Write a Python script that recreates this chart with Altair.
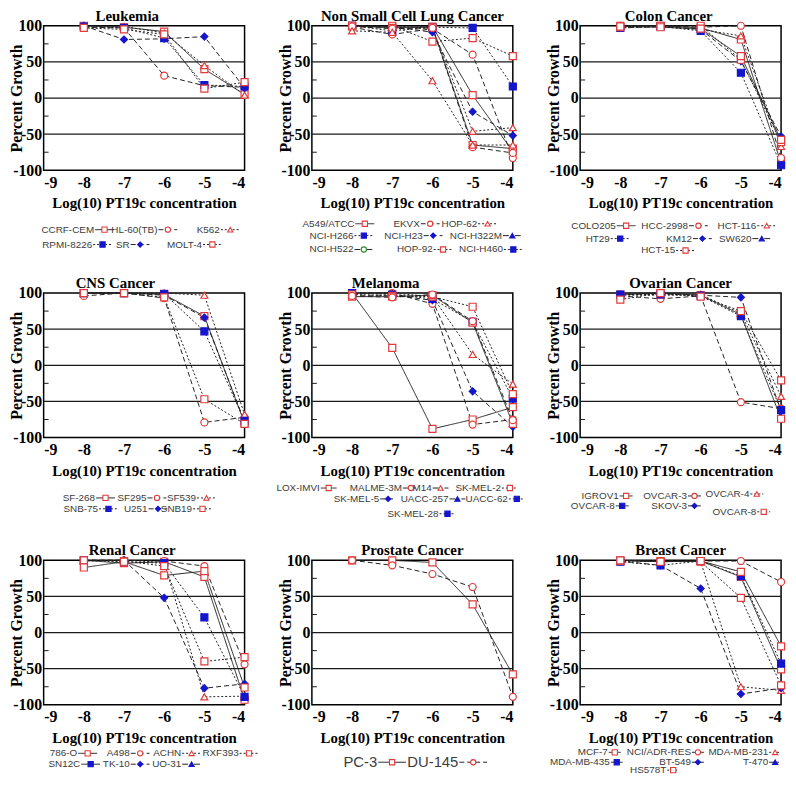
import altair as alt
import pandas as pd

CONC = [-8, -7, -6, -5, -4]

# ---------------- data (percent growth at log10 concentrations -8..-4) -------------
LEUK_NAMES = ["CCRF-CEM", "HL-60(TB)", "K562", "RPMI-8226", "SR", "MOLT-4"]
LEUK_VALUES = [
    [100, 98, 92, 40, 5],
    [98, 97, 31, 17, 15],
    [100, 99, 90, 45, 4],
    [99, 97, 83, 18, 16],
    [100, 81, 82, 85, 14],
    [97, 95, 88, 13, 22],
]
LEUK_MARK = ["rs", "rc", "rt", "bs", "bd", "rs"]
LEUK_DASH = ["solid", "dash", "dot", "dot", "dash", "dot"]

NSCLC_NAMES = ["A549/ATCC", "EKVX", "HOP-62", "NCI-H266", "NCI-H23", "NCI-H322M",
               "NCI-H522", "HOP-92", "NCI-H460"]
NSCLC_VALUES = [
    [100, 98, 99, 4, -74],
    [98, 88, 96, 60, -83],
    [99, 99, 97, -46, -41],
    [100, 93, 98, 97, 16],
    [100, 99, 91, -19, -52],
    [99, 100, 78, 83, 58],
    [100, 97, 98, -65, -70],
    [99, 96, 97, -68, -76],
    [93, 91, 24, -65, -65],
]
NSCLC_MARK = ["rs", "rc", "rt", "bs", "bd", "bt", "gc", "rs", "bs"]
NSCLC_DASH = ["solid", "dash", "dot", "dot", "dash", "dashdot", "dashdot", "dot", "dot"]

COLON_NAMES = ["COLO205", "HCC-2998", "HCT-116", "HT29", "KM12", "SW620", "HCT-15"]
COLON_VALUES = [
    [100, 100, 97, 81, -90],
    [100, 100, 98, 100, -83],
    [99, 99, 95, 86, -67],
    [97, 99, 93, 35, -93],
    [97, 99, 95, 51, -53],
    [98, 100, 100, 53, -61],
    [99, 98, 96, 58, -58],
]
COLON_MARK = ["rs", "rc", "rt", "bs", "bd", "bt", "rs"]
COLON_DASH = ["solid", "dash", "dot", "dot", "dash", "dashdot", "dot"]

CNS_NAMES = ["SF-268", "SF295", "SF539", "SNB-75", "U251", "SNB19"]
CNS_VALUES = [
    [100, 100, 98, 68, -80],
    [96, 100, 93, -79, -72],
    [100, 100, 100, 97, -68],
    [100, 100, 99, 47, -77],
    [100, 100, 97, 66, -78],
    [100, 100, 94, -47, -81],
]
CNS_MARK = ["rs", "rc", "rt", "bs", "bd", "rs"]
CNS_DASH = ["solid", "dash", "dot", "dot", "dash", "dot"]

MEL_NAMES = ["LOX-IMVI", "MALME-3M", "M14", "SK-MEL-2", "SK-MEL-5", "UACC-257",
             "UACC-62", "SK-MEL-28"]
MEL_VALUES = [
    [100, 24, -88, -75, -58],
    [100, 100, 85, -82, -75],
    [99, 100, 95, 15, -26],
    [100, 98, 92, 60, -46],
    [97, 97, 90, -36, -85],
    [98, 96, 95, 81, -40],
    [95, 95, 97, 59, -81],
    [96, 94, 98, 61, -76],
]
MEL_MARK = ["rs", "rc", "rt", "rs", "bd", "bt", "bs", "bs"]
MEL_DASH = ["solid", "dash", "dashdot", "dot", "dash", "dashdot", "dot", "dot"]

OVA_NAMES = ["IGROV1", "OVCAR-3", "OVCAR-4", "OVCAR-8", "SKOV-3", "OVCAR-8"]
OVA_VALUES = [
    [98, 100, 97, 70, -74],
    [96, 92, 96, -51, -60],
    [97, 97, 98, 72, -43],
    [98, 98, 96, 68, -62],
    [98, 99, 97, 94, -63],
    [91, 100, 95, 75, -21],
]
OVA_MARK = ["rs", "rc", "rt", "bs", "bd", "rs"]
OVA_DASH = ["solid", "dash", "dot", "solid", "dash", "dot"]

REN_NAMES = ["786-O", "A498", "ACHN", "RXF393", "SN12C", "TK-10", "UO-31"]
REN_VALUES = [
    [100, 96, 98, 77, -93],
    [100, 100, 99, 92, -44],
    [99, 100, 97, -89, -88],
    [100, 98, 96, 21, -89],
    [100, 100, 48, -77, -71],
    [100, 99, 92, -40, -34],
    [90, 98, 79, 85, -76],
]
REN_MARK = ["rs", "rc", "rt", "rs", "bs", "bd", "bt"]
REN_DASH = ["solid", "dash", "dot", "dot", "solid", "dash", "dashdot"]

PRO_NAMES = ["PC-3", "DU-145"]
PRO_VALUES = [
    [100, 100, 97, 39, -58],
    [100, 93, 81, 63, -89],
]
PRO_MARK = ["rs", "rc"]
PRO_DASH = ["solid", "dash"]

BRE_NAMES = ["MCF-7", "NCI/ADR-RES", "MDA-MB-231", "MDA-MB-435", "BT-549", "T-470", "HS578T"]
BRE_VALUES = [
    [100, 98, 99, 77, -51],
    [100, 99, 99, 99, 70],
    [99, 99, 98, -75, -80],
    [98, 93, 99, 78, -43],
    [99, 93, 61, -85, -77],
    [99, 99, 98, 48, -73],
    [100, 98, 99, 84, -19],
]
BRE_MARK = ["rs", "rc", "rt", "bs", "bd", "bt", "rs"]
BRE_DASH = ["solid", "solid", "dot", "solid", "dash", "dashdot", "dot"]

X_TICKS = [-9, -8, -7, -6, -5, -4]
Y_TICKS = [-100, -50, 0, 50, 100]
Y_GRID = [50, 0, -50]
Y_MINOR = [75, 25, -25, -75]

# ---------------- styles / layout ----------------
RED = "#e03a3a"
BLUE = "#1515cc"
GREEN = "#2a8a2a"
MARKS = {
    "rs": ("square", RED, "#ffffff"),
    "rc": ("circle", RED, "#ffffff"),
    "rt": ("triangle-up", RED, "#ffffff"),
    "bs": ("square", BLUE, BLUE),
    "bd": ("diamond", BLUE, BLUE),
    "bt": ("triangle-up", BLUE, BLUE),
    "gc": ("circle", GREEN, "#ffffff"),
}
DASHES = {"solid": [1, 0], "dash": [5, 3], "dot": [2, 2], "dashdot": [6, 2, 2, 2]}

SERIF = "Liberation Serif"
SANS = "Liberation Sans"
W = 203
H = 146
ONE = pd.DataFrame({"one": [1]})

XSC = alt.Scale(domain=[-9, -4], nice=False, zero=False)
YSC = alt.Scale(domain=[-100, 100], nice=False, zero=False)
XAX = alt.Axis(values=X_TICKS, labelExpr="'' + datum.value", labelFont=SERIF,
               labelFontSize=16, labelFontWeight="bold", labelColor="black",
               labelPadding=4, ticks=False, domain=False, grid=False,
               title="Log(10) PT19c concentration", titleFont=SERIF,
               titleFontSize=15, titleFontWeight="bold", titleColor="black",
               titleY=33, titleBaseline="middle")
YAX = alt.Axis(values=Y_TICKS, labelExpr="'' + datum.value", labelFont=SERIF,
               labelFontSize=16, labelFontWeight="bold", labelColor="black",
               labelPadding=2, ticks=False, domain=False, grid=False,
               title="Percent Growth", titleFont=SERIF, titleFontSize=16,
               titleFontWeight="bold", titleColor="black", titleX=-27,
               titleY=H / 2, titleBaseline="middle", titleAlign="center",
               titleAngle=270)


def legend_layers(names, marks, dashes, leg_x, leg_y, leg_font, seg):
    out = []
    for n, m, d, lx, ly in zip(names, marks, dashes, leg_x, leg_y):
        shape, stroke, fill = MARKS[m]
        out.append(alt.Chart(ONE).mark_rule(color="#222222", strokeWidth=1,
                                            strokeDash=DASHES[d]).encode(
            x=alt.value(lx + 1), x2=alt.value(lx + 1 + seg), y=alt.value(ly)))
        out.append(alt.Chart(ONE).mark_point(shape=shape, stroke=stroke, fill=fill,
                                             size=28, strokeWidth=1.1, opacity=1,
                                             fillOpacity=1).encode(
            x=alt.value(lx + 1 + seg / 2), y=alt.value(ly)))
        out.append(alt.Chart(ONE).mark_text(text=n, align="right", baseline="middle",
                                            font=SANS, fontSize=leg_font,
                                            color="#3c3c3c").encode(
            x=alt.value(lx), y=alt.value(ly)))
    return out


def panel(title, names, values, marks, dashes, leg_x, leg_y, title_dx,
          leg_font=10, seg=19):
    keys = [f"k{i:02d}" for i in range(len(names))]
    rows = []
    for k, n, vals in zip(keys, names, values):
        for c, v in zip(CONC, vals):
            rows.append({"key": k, "name": n, "conc": c, "growth": v})
    df = pd.DataFrame(rows)

    shape_sc = alt.Scale(domain=keys, range=[MARKS[m][0] for m in marks])
    stroke_sc = alt.Scale(domain=keys, range=[MARKS[m][1] for m in marks])
    fill_sc = alt.Scale(domain=keys, range=[MARKS[m][2] for m in marks])
    dash_sc = alt.Scale(domain=keys, range=[DASHES[d] for d in dashes])

    grid = alt.Chart(pd.DataFrame({"growth": Y_GRID})).mark_rule(
        color="#1a1a1a", strokeWidth=1.3).encode(
        y=alt.Y("growth:Q", scale=YSC, axis=YAX))
    minor = alt.Chart(pd.DataFrame({"growth": Y_MINOR})).mark_rule(
        color="#1a1a1a", strokeWidth=1).encode(
        x=alt.value(0), x2=alt.value(5), y=alt.Y("growth:Q", scale=YSC, axis=YAX))
    lines = alt.Chart(df).mark_line(color="#222222", strokeWidth=1).encode(
        x=alt.X("conc:Q", scale=XSC, axis=XAX),
        y=alt.Y("growth:Q", scale=YSC, axis=YAX),
        detail="key:N",
        strokeDash=alt.StrokeDash("key:N", scale=dash_sc, legend=None),
    )
    pts = alt.Chart(df).mark_point(size=50, strokeWidth=1.2, opacity=1,
                                   fillOpacity=1).encode(
        x=alt.X("conc:Q", scale=XSC, axis=XAX),
        y=alt.Y("growth:Q", scale=YSC, axis=YAX),
        shape=alt.Shape("key:N", scale=shape_sc, legend=None),
        stroke=alt.Stroke("key:N", scale=stroke_sc, legend=None),
        fill=alt.Fill("key:N", scale=fill_sc, legend=None),
    )
    ttl = alt.Chart(ONE).mark_text(text=title, font=SERIF, fontSize=15,
                                   fontWeight="bold", color="black", align="center",
                                   baseline="alphabetic").encode(
        x=alt.value(W / 2 + title_dx), y=alt.value(-5))
    leg = legend_layers(names, marks, dashes, leg_x, leg_y, leg_font, seg)

    return alt.layer(grid, minor, lines, pts, ttl, *leg).properties(width=W, height=H)


p1 = panel("Leukemia", LEUK_NAMES, LEUK_VALUES, LEUK_MARK, LEUK_DASH,
           [51, 115, 178, 49, 87, 160], [206, 206, 206, 221, 221, 221], -17)
p2 = panel("Non  Small Cell Lung Cancer", NSCLC_NAMES, NSCLC_VALUES, NSCLC_MARK, NSCLC_DASH,
           [43, 109, 167, 42, 112, 192, 42, 122, 193],
           [200, 200, 200, 212, 212, 212, 226, 226, 226], 0)
p3 = panel("Colon Cancer", COLON_NAMES, COLON_VALUES, COLON_MARK, COLON_DASH,
           [36, 109, 178, 30, 113, 173, 96],
           [202, 202, 202, 215, 215, 215, 227], -12)
p4 = panel("CNS Cancer", CNS_NAMES, CNS_VALUES, CNS_MARK, CNS_DASH,
           [52, 104, 154, 55, 105, 150], [207, 207, 207, 218, 218, 218], -29)
p5 = panel("Melanoma", MEL_NAMES, MEL_VALUES, MEL_MARK, MEL_DASH,
           [8, 91, 121, 191, 68, 138, 198, 128],
           [197, 197, 197, 197, 208, 208, 208, 223], -27, seg=16)
p6 = panel("Ovarian Cancer", OVA_NAMES, OVA_VALUES, OVA_MARK, OVA_DASH,
           [39, 108, 171, 35, 108, 178], [205, 205, 203, 215, 215, 221], 0, seg=13)
p7 = panel("Renal Cancer", REN_NAMES, REN_VALUES, REN_MARK, REN_DASH,
           [34, 87, 139, 197, 37, 87, 139], [195, 195, 195, 195, 206, 206, 206], -12)
p8 = panel("Prostate Cancer", PRO_NAMES, PRO_VALUES, PRO_MARK, PRO_DASH,
           [66, 148], [204, 204], 0, leg_font=15, seg=28)
p9 = panel("Breast Cancer", BRE_NAMES, BRE_VALUES, BRE_MARK, BRE_DASH,
           [28, 112, 190, 30, 112, 190, 87], [194, 194, 194, 204, 204, 204, 212], 0,
           seg=12)

chart = alt.concat(p1, p2, p3, p4, p5, p6, p7, p8, p9, columns=3,
                   spacing={"row": 124, "column": 68}, bounds="flush").properties(
    padding={"left": 0, "top": -4, "right": 0, "bottom": 0},
    background="white",
).configure_view(stroke="black", strokeWidth=1.5)

chart.save("out.html", embed_options={"renderer": "svg", "actions": False})
